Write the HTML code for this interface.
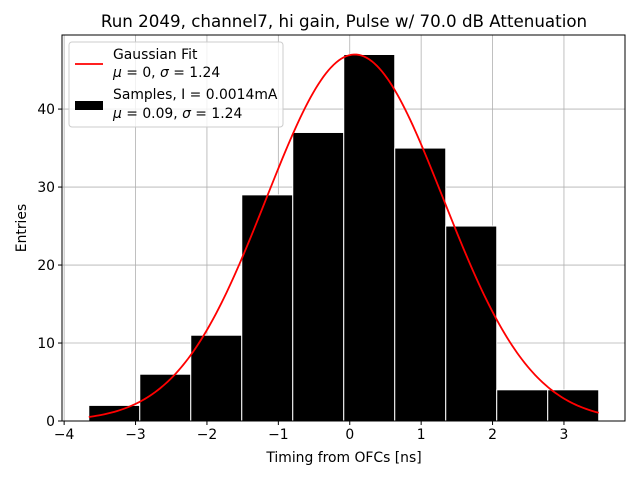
<!DOCTYPE html>
<html><head><meta charset="utf-8"><style>
body{margin:0;background:#fff;font-family:"Liberation Sans","DejaVu Sans",sans-serif;}
svg text{font-family:"DejaVu Sans","Liberation Sans",sans-serif;}
</style></head><body>
<svg id="chart" width="640" height="480" xmlns="http://www.w3.org/2000/svg">
<rect width="640" height="480" fill="#fff"/>
<text x="344" y="27" font-size="16.7" text-anchor="middle">Run 2049, channel7, hi gain, Pulse w/ 70.0 dB Attenuation</text>
<g id="grid"></g>
<g id="bars"></g>
<g id="fit"></g>
<rect x="62" y="35" width="563" height="386" fill="none" stroke="#000" stroke-width="1"/>
<g id="axes"></g>
<text x="344" y="462" font-size="13.9" text-anchor="middle">Timing from OFCs [ns]</text>
<text x="26" y="228" font-size="13.9" text-anchor="middle" transform="rotate(-90 26 228)">Entries</text>
<g>
<rect x="69" y="42" width="214" height="85" rx="3" fill="#fff" fill-opacity="0.8" stroke="#ccc"/>
<line x1="75" y1="64" x2="103" y2="64" stroke="red" stroke-width="1.8"/>
<text x="113" y="59" font-size="13.9">Gaussian Fit</text>
<text x="113" y="77" font-size="13.9"><tspan font-style="italic">μ</tspan> = 0, <tspan font-style="italic">σ</tspan> = 1.24</text>
<rect x="75" y="101" width="28" height="9" fill="#000"/>
<text x="113" y="99" font-size="13.9">Samples, I = 0.0014mA</text>
<text x="113" y="118" font-size="13.9"><tspan font-style="italic">μ</tspan> = 0.09, <tspan font-style="italic">σ</tspan> = 1.24</text>
</g>
</svg>
<script>
const binStart = -3.655;
const binWidth = 0.7142;
const counts = [2, 6, 11, 29, 37, 47, 35, 25, 4, 4];
const xTicks = [-4, -3, -2, -1, 0, 1, 2, 3];
const yTicks = [0, 10, 20, 30, 40];
const fitAmp = 47;
const fitMu = 0.07;
const fitSigma = 1.24;

const X0=62,X1=625,Y0=421,Y1=35, xmin=-4.03,xmax=3.855,ymin=0,ymax=49.5;
const sx=v=>X0+(v-xmin)/(xmax-xmin)*(X1-X0);
const sy=v=>Y0-(v-ymin)/(ymax-ymin)*(Y0-Y1);
const NS="http://www.w3.org/2000/svg";
function mk(tag,attrs,parent){const e=document.createElementNS(NS,tag);for(const k in attrs)e.setAttribute(k,attrs[k]);parent.appendChild(e);return e;}
const grid=document.getElementById('grid'),axes=document.getElementById('axes'),bars=document.getElementById('bars'),fit=document.getElementById('fit');
xTicks.forEach(t=>{const x=sx(t);
 const g=mk('line',{x1:x,x2:x,y1:Y1,y2:Y0,stroke:'#b0b0b0','stroke-width':0.8},grid);
 
 
 const k=mk('line',{x1:x,x2:x,y1:Y0,y2:Y0+4,stroke:'#000'},axes);
 
 
 const l=mk('text',{x:x,y:Y0+18,'font-size':13.9,'text-anchor':'middle'},axes);l.textContent=(t<0?'\u2212'+(-t):t);
 
 
});
yTicks.forEach(t=>{const y=sy(t);
 const g=mk('line',{x1:X0,x2:X1,y1:y,y2:y,stroke:'#b0b0b0','stroke-width':0.8},grid);
 
 
 const k=mk('line',{x1:X0-4,x2:X0,y1:y,y2:y,stroke:'#000'},axes);
 
 
 const l=mk('text',{x:X0-7,y:y+5,'font-size':13.9,'text-anchor':'end'},axes);l.textContent=t;
 
 
});
counts.forEach((c,i)=>{const a=sx(binStart+i*binWidth),b=sx(binStart+(i+1)*binWidth);
 const r=mk('rect',{x:a,y:sy(c),width:b-a,height:sy(0)-sy(c),fill:'#000',stroke:'#fff','stroke-width':1},bars);
 
 
});
let d='';const lo=binStart,hi=binStart+counts.length*binWidth;
for(let i=0;i<=200;i++){const v=lo+(hi-lo)*i/200;const f=fitAmp*Math.exp(-((v-fitMu)**2)/(2*fitSigma*fitSigma));d+=(i?'L':'M')+sx(v).toFixed(2)+','+sy(f).toFixed(2);}
const p=mk('path',{d:d,fill:'none',stroke:'red','stroke-width':1.8},fit);


</script>
</body></html>
